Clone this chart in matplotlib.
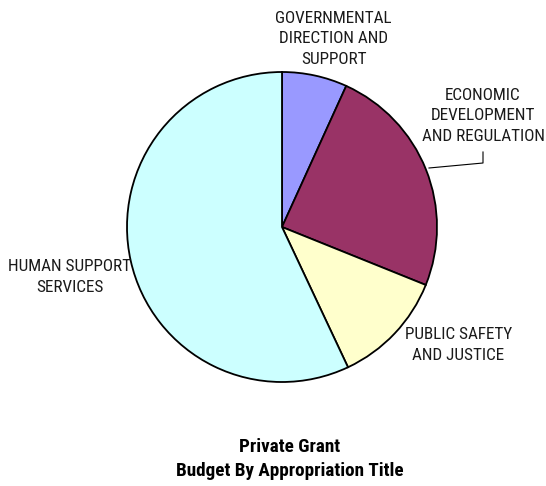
import matplotlib
matplotlib.use("Agg")
import matplotlib.pyplot as plt

titles = ["GOVERNMENTAL\nDIRECTION AND\nSUPPORT",
          "ECONOMIC\nDEVELOPMENT\nAND REGULATION",
          "PUBLIC SAFETY\nAND JUSTICE",
          "HUMAN SUPPORT\nSERVICES"]
shares = [6.8, 24.3, 11.9, 57.0]
colors = ["#9999FF", "#993366", "#FFFFCC", "#CCFFFF"]

plt.rcParams["font.family"] = ["Roboto Condensed", "DejaVu Sans"]

W, H = 546, 486
fig = plt.figure(figsize=(W / 100, H / 100), dpi=100)
ax = fig.add_axes([0, 0, 1, 1])

cx, cy, r = 282, H - 227, 155
ax.pie(shares, colors=colors, startangle=90, counterclock=False,
       center=(cx, cy), radius=r, frame=True,
       wedgeprops=dict(edgecolor="black", linewidth=1.3))
ax.set_xlim(0, W)
ax.set_ylim(0, H)
ax.set_aspect("equal")
ax.axis("off")

lbl = dict(fontsize=12.3, color="#1a1a1a", ha="center", va="center", linespacing=1.42)
ax.text(333.5, H - 39, titles[0], **lbl)
ax.text(483, H - 116, titles[1], **lbl)
ax.text(458.5, H - 345, titles[2], **lbl)
ax.text(70, H - 277, titles[3], **lbl)

# leader line for the economic slice label
ax.plot([429, 483, 483], [H - 168, H - 163, H - 152], color="black", lw=0.8)

ax.text(290, H - 459, "Private Grant\nBudget By Appropriation Title",
        fontsize=13.8, fontweight="bold", color="black",
        ha="center", va="center", linespacing=1.38)

fig.savefig("out.png", dpi=100)
